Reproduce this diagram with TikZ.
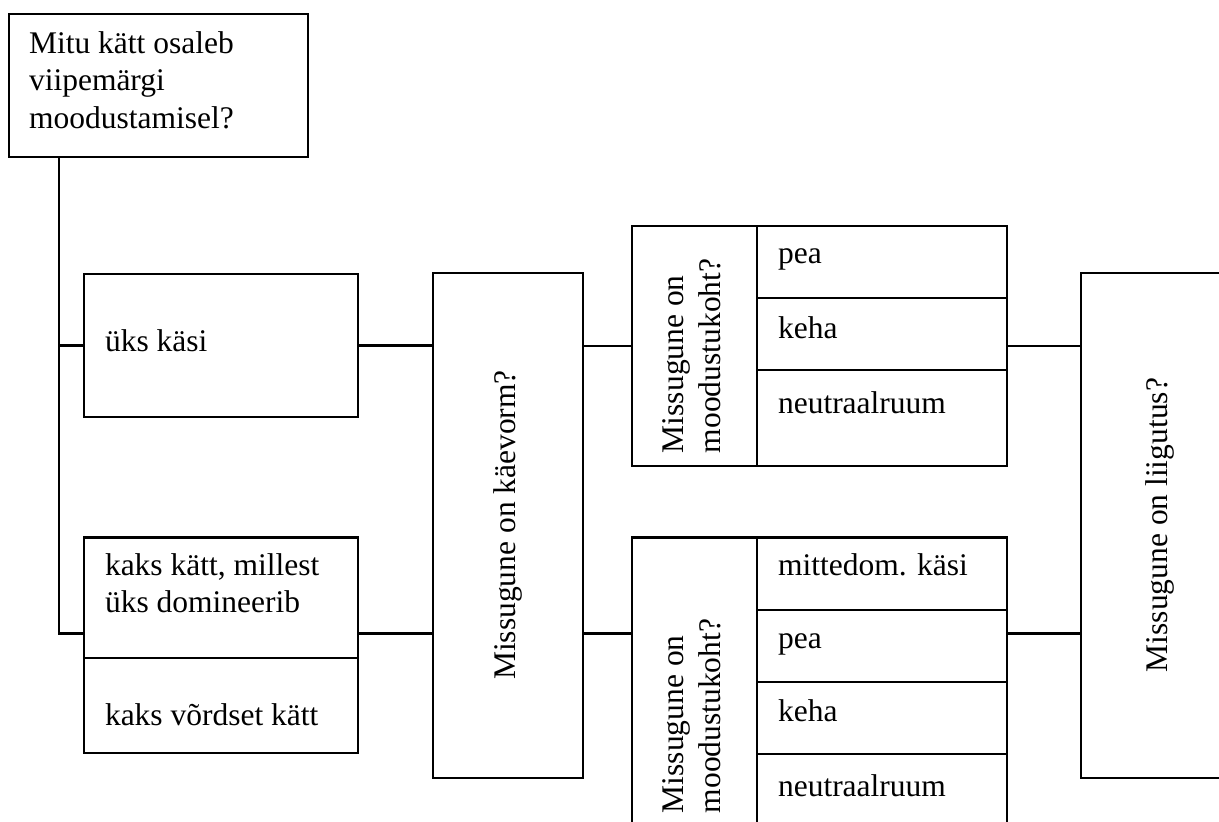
\documentclass[tikz,border=0pt]{standalone}
\usepackage{fontspec}
\setmainfont{Liberation Serif}
\begin{document}
\begin{tikzpicture}[x=0.5pt,y=-0.5pt,
  box/.style={draw, line width=1.1pt, rectangle, inner sep=0pt, outer sep=0pt, anchor=north west},
  lbl/.style={inner sep=0pt, outer sep=0pt, font=\fontsize{15.75pt}{18.6pt}\selectfont, align=left},
  conn/.style={draw, line width=1.1pt}]
\useasboundingbox (0,0) rectangle (1219,821);
\begin{scope}
\clip (0,0) rectangle (1219,821);
% top question
\node[box, minimum width=149.5pt, minimum height=71.5pt] (top) at (9,14) {};
\node[lbl, anchor=base west] (toptxt) at (29,128) {Mitu kätt osaleb\\viipemärgi\\moodustamisel?};
% hands
\node[box, minimum width=137pt, minimum height=71.5pt] (uks) at (84,274) {};
\node[lbl, anchor=base west] (ukstxt) at (105,351) {üks käsi};
\node[box, minimum width=137pt, minimum height=60.25pt] (kaks1) at (84,537.5) {};
\node[lbl, anchor=base west] (kaks1txt) at (105,612.5) {kaks kätt, millest\\üks domineerib};
\node[box, minimum width=137pt, minimum height=47.5pt] (kaks2) at (84,658) {};
\node[lbl, anchor=base west] (kaks2txt) at (105,725) {kaks võrdset kätt};
% handshape
\node[box, minimum width=75pt, minimum height=252.5pt] (kv) at (433,273) {};
\node[lbl, rotate=90] (kvtxt) at (508,525) {Missugune on käevorm?};
% location 1
\node[box, minimum width=62.5pt, minimum height=120pt] (mkA) at (632,226) {};
\node[lbl, rotate=90, anchor=west] (mkAtxt) at (692,453) {Missugune on\\moodustukoht?};
\node[box, minimum width=125pt, minimum height=36pt] (a1) at (757,226) {};
\node[box, minimum width=125pt, minimum height=36pt] (a2) at (757,298) {};
\node[box, minimum width=125pt, minimum height=48pt] (a3) at (757,370) {};
\node[lbl, anchor=base west] (a1t) at (778,263) {pea};
\node[lbl, anchor=base west] (a2t) at (778,338) {keha};
\node[lbl, anchor=base west] (a3t) at (778,413) {neutraalruum};
% location 2
\node[box, minimum width=62.5pt, minimum height=150pt] (mkB) at (632,537.5) {};
\node[lbl, rotate=90, anchor=west] (mkBtxt) at (692,813) {Missugune on\\moodustukoht?};
\node[box, minimum width=125pt, minimum height=36.25pt] (b1) at (757,537.5) {};
\node[box, minimum width=125pt, minimum height=36pt] (b2) at (757,610) {};
\node[box, minimum width=125pt, minimum height=36pt] (b3) at (757,682) {};
\node[box, minimum width=125pt, minimum height=40pt] (b4) at (757,754) {};
\node[lbl, anchor=base west] (b1t) at (778,575) {mittedom. käsi};
\node[lbl, anchor=base west] (b2t) at (778,648) {pea};
\node[lbl, anchor=base west] (b3t) at (778,721.5) {keha};
\node[lbl, anchor=base west] (b4t) at (778,796.5) {neutraalruum};
% movement
\node[box, minimum width=85pt, minimum height=252.5pt] (lg) at (1081,273) {};
\node[lbl, rotate=90] (lgtxt) at (1160,525) {Missugune on liigutus?};
% connectors
\coordinate (j1) at (59,345.5);
\coordinate (j2) at (59,633.5);
\draw[conn] (top.south west) ++(50,0) |- (kaks1.west |- j2);
\draw[conn] (j1) -- (uks.west |- j1);
\draw[conn] (uks.east) -- (kv.west |- uks.east);
\draw[conn] (kaks1.east |- j2) -- (kv.west |- j2);
\draw[conn] (kv.east |- mkA.west) -- (mkA.west);
\draw[conn] (kv.east |- j2) -- (mkB.west |- j2);
\draw[conn] (a2.east |- mkA.west) -- (lg.west |- mkA.west);
\draw[conn] (b2.east |- j2) -- (lg.west |- j2);
\end{scope}
\end{tikzpicture}
\end{document}
